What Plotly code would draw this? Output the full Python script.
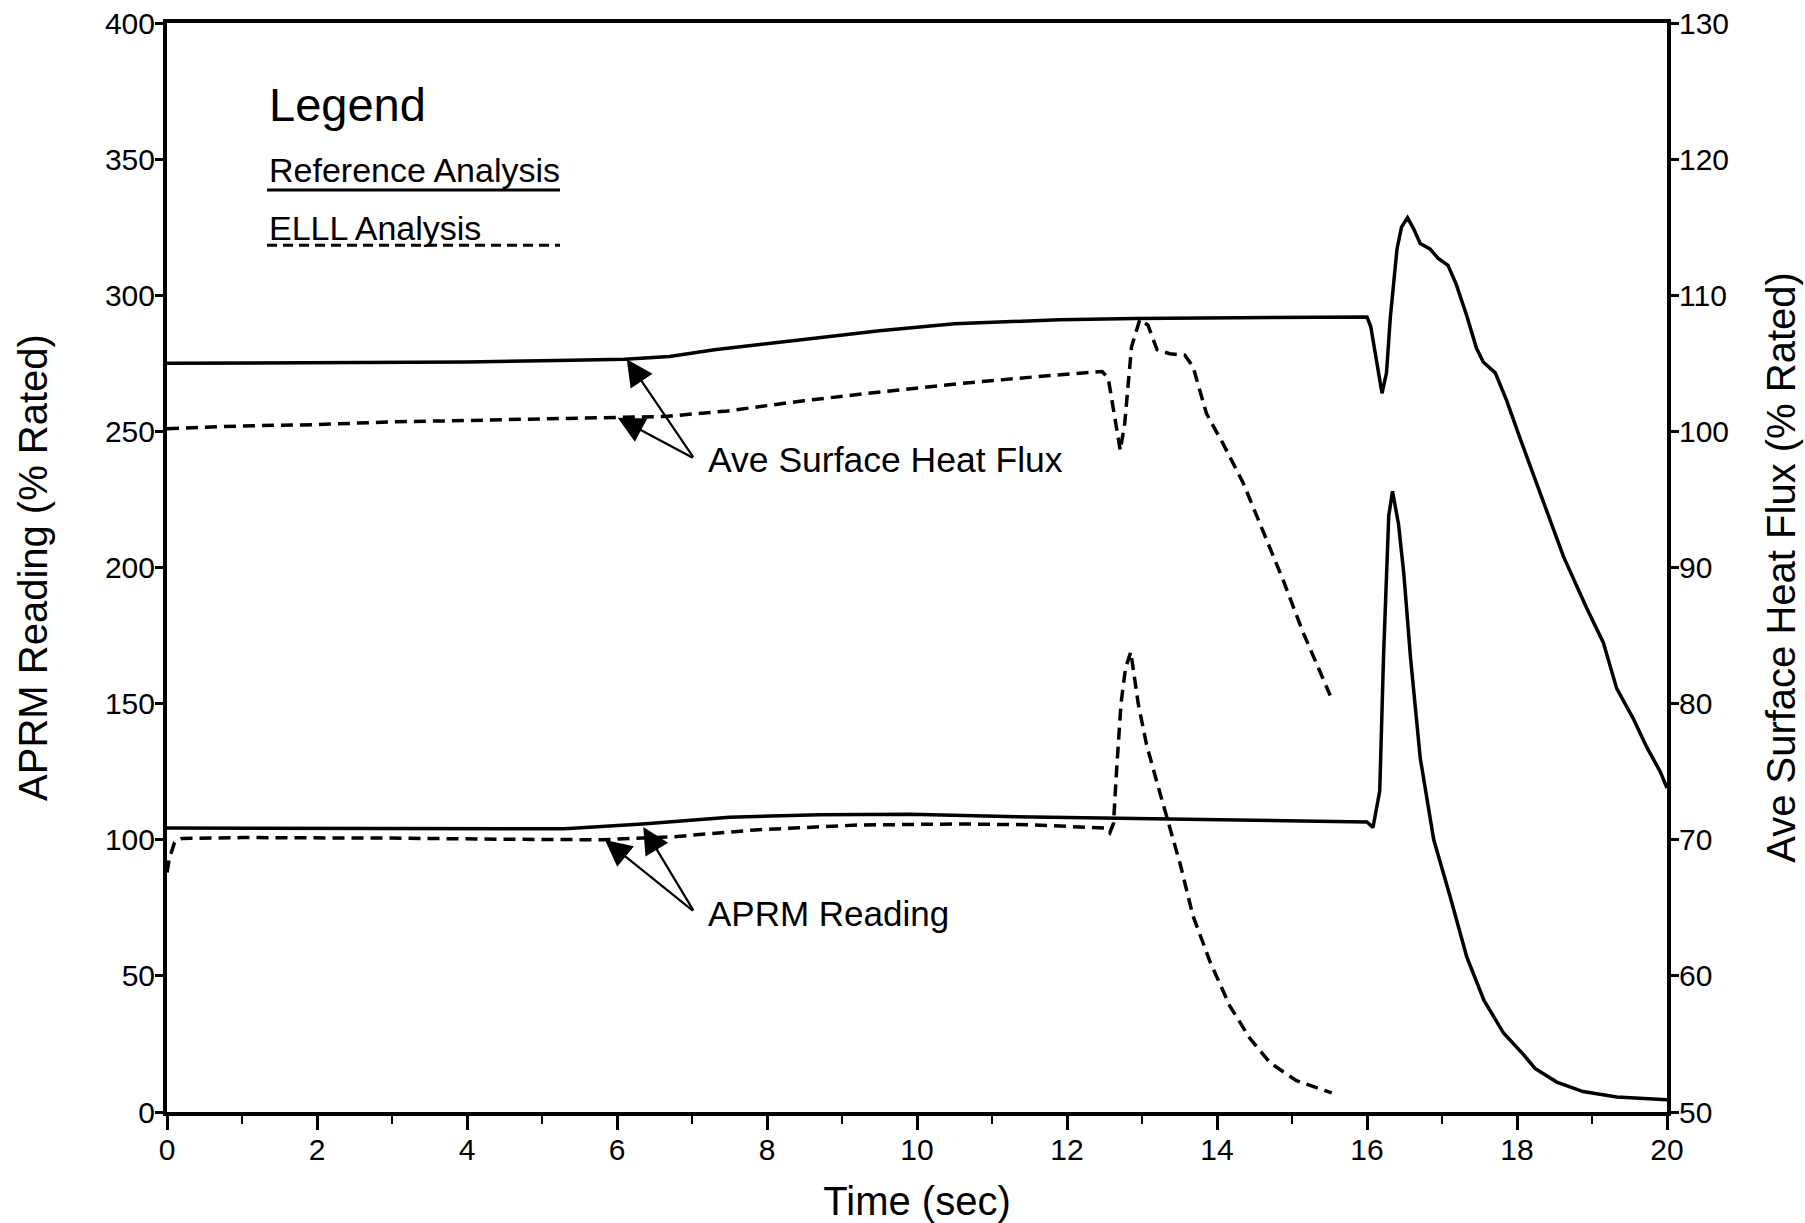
import plotly.graph_objects as go

# ---------------- data ----------------
# Reference analysis - average surface heat flux (% rated, right axis)
t_ref_flux = [0, 2, 4, 5.2, 6.1, 6.7, 7.3, 8.4, 9.5, 10.5, 11.9, 12.9, 16.0, 16.05, 16.13,
              16.2, 16.26, 16.31, 16.4, 16.46, 16.54, 16.62, 16.71, 16.84, 16.95, 17.08,
              17.19, 17.33, 17.46, 17.55, 17.71, 17.86, 18.04, 18.2, 18.35, 18.62, 18.93,
              19.15, 19.33, 19.55, 19.73, 19.91, 20.0]
ref_flux = [105.0, 105.05, 105.1, 105.2, 105.3, 105.5, 106.0, 106.7, 107.4, 107.9, 108.2,
            108.3, 108.4, 107.7, 104.9, 102.8, 104.3, 108.3, 113.4, 115.0, 115.7, 114.9,
            113.8, 113.4, 112.7, 112.2, 110.8, 108.5, 106.1, 105.1, 104.3, 102.3, 99.5,
            97.1, 94.8, 90.8, 87.0, 84.5, 81.1, 78.9, 76.8, 75.0, 73.8]

# ELLL analysis - average surface heat flux (% rated, right axis)
t_elll_flux = [0, 1, 2, 3, 4, 5, 5.8, 6.65, 7.47, 8.49, 9.51, 10.54, 11.56, 12.47, 12.55,
               12.64, 12.71, 12.77, 12.86, 12.97, 13.08, 13.2, 13.37, 13.57, 13.68, 13.86,
               14.08, 14.35, 14.62, 14.88, 15.15, 15.51]
elll_flux = [100.2, 100.4, 100.5, 100.7, 100.8, 100.9, 101.0, 101.1, 101.5, 102.25, 102.9,
             103.5, 104.0, 104.4, 103.9, 100.8, 98.6, 100.6, 106.2, 108.2, 107.8, 106.0,
             105.7, 105.6, 104.75, 101.3, 99.1, 96.2, 92.5, 89.1, 85.2, 80.6]

# Reference analysis - APRM reading (% rated, left axis)
t_ref_aprm = [0, 2, 4, 5.3, 6.34, 7.5, 8.7, 9.9, 11.2, 12.6, 14.0, 15.1, 16.0, 16.08, 16.17,
              16.22, 16.29, 16.34, 16.42, 16.49, 16.58, 16.71, 16.89, 17.11, 17.33, 17.56,
              17.82, 18.09, 18.24, 18.53, 18.88, 19.33, 20.0]
ref_aprm = [104.3, 104.3, 104.0, 104.0, 105.8, 108.3, 109.2, 109.4, 108.5, 107.9, 107.5,
            106.8, 106.5, 104.5, 118, 167, 219, 228, 216, 198, 167, 130, 100, 79, 57, 41,
            29, 21, 16, 11, 7.5, 5.5, 4.5]

# ELLL analysis - APRM reading (% rated, left axis)
t_elll_aprm = [0, 0.03, 0.1, 0.2, 1, 2, 3, 4.44, 5.8, 6.75, 7.84, 9.2, 10.56, 11.5, 12.26,
               12.5, 12.57, 12.62, 12.66, 12.72, 12.78, 12.85, 12.95, 13.06, 13.2, 13.35,
               13.51, 13.68, 13.91, 14.17, 14.44, 14.71, 15.06, 15.53]
elll_aprm = [88, 93, 99, 100.5, 100.8, 100.8, 100.6, 100.2, 100.0, 101.1, 103.6, 105.4,
             105.8, 105.5, 104.8, 104.3, 102.5, 106, 125, 150, 163, 169, 150, 135, 121,
             107, 91, 72, 55, 39, 27, 18, 11.5, 7]

x_ticks = [0, 2, 4, 6, 8, 10, 12, 14, 16, 18, 20]
left_ticks = [0, 50, 100, 150, 200, 250, 300, 350, 400]
right_ticks = [50, 60, 70, 80, 90, 100, 110, 120, 130]

# ---------------- figure ----------------
FONT = "Liberation Sans, Arial, sans-serif"
LW = 3.5
DASH = "12px,7px"

fig = go.Figure()
fig.add_trace(go.Scatter(x=t_ref_aprm, y=ref_aprm, mode="lines", yaxis="y",
                         line=dict(color="black", width=LW), name="Reference APRM"))
fig.add_trace(go.Scatter(x=t_elll_aprm, y=elll_aprm, mode="lines", yaxis="y",
                         line=dict(color="black", width=LW, dash=DASH), name="ELLL APRM"))
fig.add_trace(go.Scatter(x=t_ref_flux, y=ref_flux, mode="lines", yaxis="y2",
                         line=dict(color="black", width=LW), name="Reference Heat Flux"))
fig.add_trace(go.Scatter(x=t_elll_flux, y=elll_flux, mode="lines", yaxis="y2",
                         line=dict(color="black", width=LW, dash=DASH), name="ELLL Heat Flux"))

tickfont = dict(family=FONT, size=30, color="black")
titlefont = dict(family=FONT, size=40, color="black")

annotations = [
    dict(text="Legend", x=0.0667, y=0.9256, xref="paper", yref="paper", xanchor="left",
         yanchor="middle", showarrow=False, font=dict(family=FONT, size=47, color="black")),
    dict(text="Reference Analysis", x=0.0667, y=0.865, xref="paper", yref="paper",
         xanchor="left", yanchor="middle", showarrow=False,
         font=dict(family=FONT, size=34, color="black")),
    dict(text="ELLL Analysis", x=0.0667, y=0.812, xref="paper", yref="paper",
         xanchor="left", yanchor="middle", showarrow=False,
         font=dict(family=FONT, size=34, color="black")),
    dict(text="Ave Surface Heat Flux", x=0.3593, y=0.5987, xref="paper", yref="paper",
         xanchor="left", yanchor="middle", showarrow=False,
         font=dict(family=FONT, size=35.5, color="black")),
    dict(text="APRM Reading", x=0.3593, y=0.1827, xref="paper", yref="paper",
         xanchor="left", yanchor="middle", showarrow=False,
         font=dict(family=FONT, size=35, color="black")),
]

arrow_style = dict(showarrow=True, arrowhead=2, arrowsize=2.4, arrowwidth=2.2,
                   arrowcolor="black", text="")
# Heat flux arrows (right axis)
for tx, ty in [(6.13, 105.3), (6.01, 101.0)]:
    annotations.append(dict(x=tx, y=ty, xref="x", yref="y2", ax=7.03, ay=98.0,
                            axref="x", ayref="y2", **arrow_style))
# APRM arrows (left axis)
for tx, ty in [(6.35, 104.7), (5.84, 99.9)]:
    annotations.append(dict(x=tx, y=ty, xref="x", yref="y", ax=7.03, ay=73.5,
                            axref="x", ayref="y", **arrow_style))

shapes = [
    dict(type="line", xref="paper", yref="paper", x0=0.0667, x1=0.262, y0=0.8466, y1=0.8466,
         line=dict(color="black", width=3)),
    dict(type="line", xref="paper", yref="paper", x0=0.0667, x1=0.262, y0=0.796, y1=0.796,
         line=dict(color="black", width=3, dash="10px,6px")),
]

fig.update_layout(
    width=1805, height=1223,
    margin=dict(l=167, r=138, t=23, b=111),
    paper_bgcolor="white", plot_bgcolor="white",
    showlegend=False,
    font=dict(family=FONT, color="black"),
    xaxis=dict(range=[0, 20], tickvals=x_ticks, ticks="outside", ticklen=14, tickwidth=3,
               tickcolor="black", showline=True, linewidth=4, linecolor="black", mirror=True,
               showgrid=False, zeroline=False, tickfont=tickfont, automargin=False,
               ticklabelstandoff=-6,
               minor=dict(dtick=1, tick0=0, ticks="outside", ticklen=8, tickwidth=2,
                          tickcolor="black", showgrid=False),
               title=dict(text="Time (sec)", font=titlefont, standoff=24)),
    yaxis=dict(range=[0, 400], tickvals=left_ticks, ticks="outside", ticklen=8, tickwidth=3,
               tickcolor="black", showline=True, linewidth=4, linecolor="black",
               showgrid=False, zeroline=False, tickfont=tickfont, automargin=False,
               ticklabelstandoff=-6,
               title=dict(text="APRM Reading (% Rated)", font=titlefont, standoff=46)),
    yaxis2=dict(range=[50, 130], tickvals=right_ticks, overlaying="y", side="right",
                ticks="outside", ticklen=8, tickwidth=3, tickcolor="black", showline=True,
                linewidth=4, linecolor="black", showgrid=False, zeroline=False,
                tickfont=tickfont, automargin=False, ticklabelstandoff=-6,
                title=dict(text="Ave Surface Heat Flux (% Rated)", font=titlefont, standoff=40)),
    annotations=annotations,
    shapes=shapes,
)

fig.write_html("out.html")
